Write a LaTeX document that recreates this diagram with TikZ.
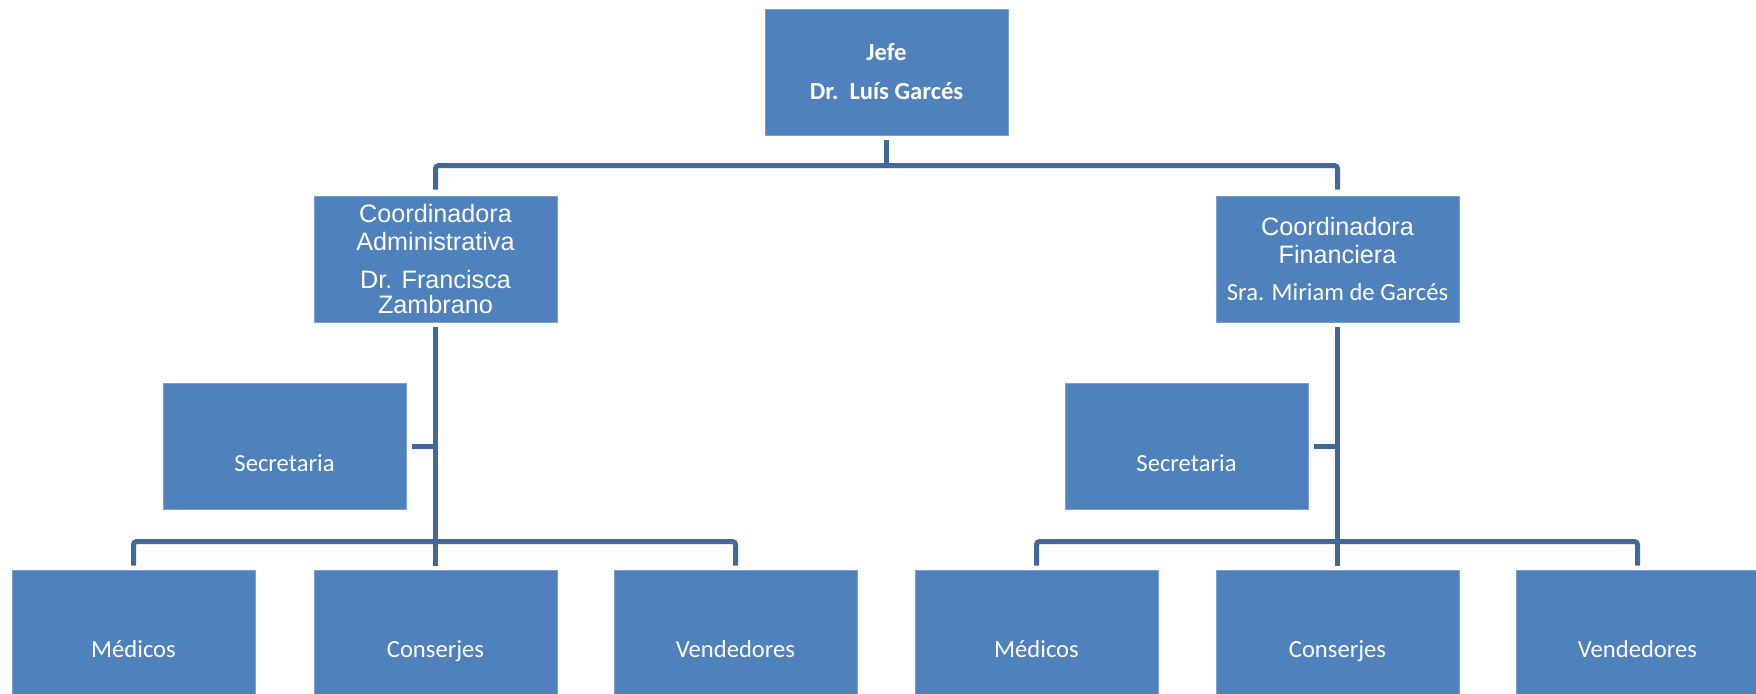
\documentclass[tikz,border=0pt]{standalone}
\usepackage{fontspec}
\setmainfont{Carlito}
\newfontfamily\arialf{Liberation Sans}
\definecolor{boxblue}{RGB}{79,129,189}
\definecolor{lineblue}{RGB}{65,104,152}
\newcommand{\lowtxt}[1]{\raisebox{-12.4pt}[0pt][0pt]{#1}}
\begin{document}
\begin{tikzpicture}[x=0.5pt,y=-0.5pt,
  box/.style={rectangle, fill=boxblue, draw=boxblue!75!white, line width=0.4pt,
    minimum width=121.5pt, minimum height=63pt, inner sep=0pt, align=center,
    text=white, font=\fontsize{12.3}{14}\selectfont},
  boldbox/.style={box, font=\fontsize{12.3}{14}\selectfont\bfseries},
  arialbox/.style={box, font=\fontsize{12.6}{14}\selectfont\arialf},
  conn/.style={draw=lineblue, line width=2.5pt, rounded corners=1.5pt}]
\useasboundingbox (0,0) rectangle (1756,693);
% nodes
\node[boldbox] (jefe) at (886.5,72) {Jefe\\[5.5pt]Dr.\ \ Luís Garcés};
\node[arialbox] (ca) at (435.5,259) {Coordinadora\\Administrativa\\[5pt]Dr. Francisca\\[-1.5pt]Zambrano};
\node[arialbox] (cf) at (1337.5,259) {Coordinadora\\Financiera\\[4.5pt]{\fontsize{12.3}{14}\selectfont\rmfamily Sra. Miriam de Garcés}};
\node[box] (s1) at (284.5,446.5) {\lowtxt{Secretaria}};
\node[box] (s2) at (1186.5,446.5) {\lowtxt{Secretaria}};
\node[box] (m1) at (133.5,633) {\lowtxt{Médicos}};
\node[box] (c1) at (435.5,633) {\lowtxt{Conserjes}};
\node[box] (v1) at (735.5,633) {\lowtxt{Vendedores}};
\node[box] (m2) at (1036.5,633) {\lowtxt{Médicos}};
\node[box] (c2) at (1337.5,633) {\lowtxt{Conserjes}};
\node[box] (v2) at (1637.5,633) {\lowtxt{Vendedores}};
% connectors
\draw[conn] ([shift={(0,5)}]jefe.south) -- ++(0,26);
\draw[conn] ([shift={(0,-6)}]ca.north) |- ([shift={(0,-30)}]cf.north) -- ([shift={(0,-6)}]cf.north);
\draw[conn] ([shift={(0,5)}]ca.south) -- ([shift={(0,-4)}]c1.north);
\draw[conn] ([shift={(0,5)}]cf.south) -- ([shift={(0,-4)}]c2.north);
\draw[conn] ([shift={(6,0)}]s1.east) -- (s1.east -| ca.south);
\draw[conn] ([shift={(6,0)}]s2.east) -- (s2.east -| cf.south);
\draw[conn] ([shift={(0,-4)}]m1.north) |- ([shift={(0,-28)}]v1.north) -- ([shift={(0,-4)}]v1.north);
\draw[conn] ([shift={(0,-4)}]m2.north) |- ([shift={(0,-28)}]v2.north) -- ([shift={(0,-4)}]v2.north);
\end{tikzpicture}
\end{document}
